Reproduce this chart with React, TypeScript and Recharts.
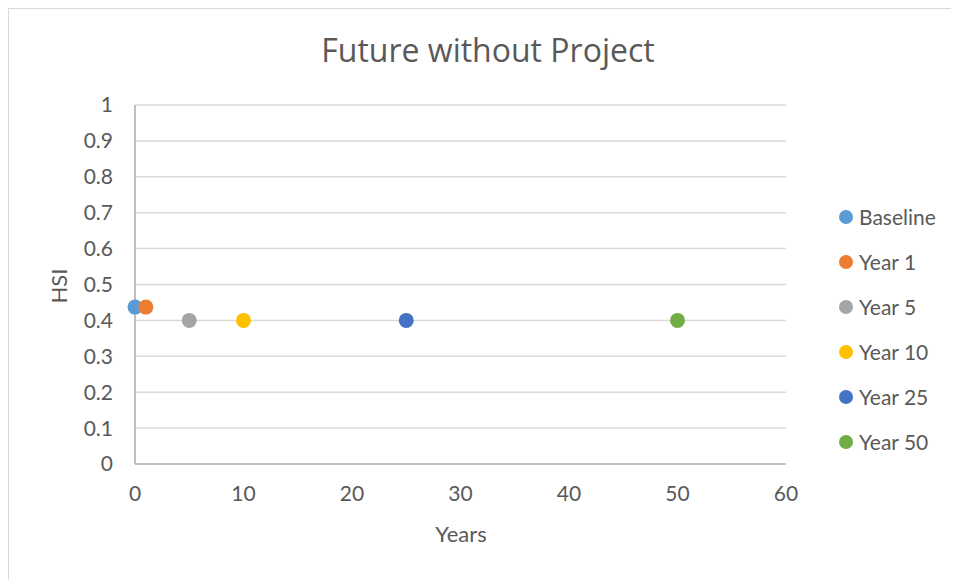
import {
  ScatterChart,
  Scatter,
  XAxis,
  YAxis,
  CartesianGrid,
  Legend,
} from "recharts";

const seriesNames = ["Baseline", "Year 1", "Year 5", "Year 10", "Year 25", "Year 50"];
const years = [0, 1, 5, 10, 25, 50];
const hsi = [0.437, 0.437, 0.4, 0.4, 0.4, 0.4];
const colors = ["#5B9BD5", "#ED7D31", "#A5A5A5", "#FFC000", "#4472C4", "#70AD47"];
const xTicks = [0, 10, 20, 30, 40, 50, 60];
const yTicks = [0, 0.1, 0.2, 0.3, 0.4, 0.5, 0.6, 0.7, 0.8, 0.9, 1];

const FONT = "Lato, 'Open Sans', sans-serif";
const TEXT = "#595959";

const Dot = (props: any) => (
  <circle cx={props.cx} cy={props.cy} r={7.5} fill={props.fill} />
);

// keep legend in series order (recharts sorts by name otherwise)
const LegendList = (props: any) => {
  const items = [...(props.payload || [])].sort(
    (a: any, b: any) => seriesNames.indexOf(a.value) - seriesNames.indexOf(b.value)
  );
  return (
    <div style={{ fontFamily: FONT, fontSize: 21, color: TEXT }}>
      {items.map((p: any) => (
        <div key={p.value} style={{ height: 45, display: "flex", alignItems: "center" }}>
          <span
            style={{
              width: 14,
              height: 14,
              borderRadius: 7,
              background: p.color,
              display: "inline-block",
              marginRight: 6,
            }}
          />
          <span>{p.value}</span>
        </div>
      ))}
    </div>
  );
};

export default function App() {
  return (
    <div
      style={{
        position: "relative",
        width: 950,
        height: 571,
        borderTop: "1px solid #d9d9d9",
        borderLeft: "1px solid #d9d9d9",
        fontFamily: FONT,
      }}
    >
      {/* Title */}
      <div
        style={{
          position: "absolute",
          left: 0,
          top: 22,
          width: 958,
          textAlign: "center",
          fontFamily: "'Open Sans', sans-serif",
          fontSize: 32,
          lineHeight: "38px",
          color: TEXT,
        }}
      >
        Future without Project
      </div>

      <ScatterChart
        width={950}
        height={571}
        margin={{ top: 96, right: 173, bottom: 76, left: 0 }}
      >
        <CartesianGrid vertical={false} stroke="#d9d9d9" strokeWidth={1.5} />
        <XAxis
          type="number"
          dataKey="x"
          domain={[0, 60]}
          ticks={xTicks}
          height={40}
          tickSize={0}
          tickMargin={22}
          axisLine={{ stroke: "#bfbfbf", strokeWidth: 2 }}
          tick={{ fill: TEXT, fontSize: 21, fontFamily: FONT }}
        />
        <YAxis
          type="number"
          dataKey="y"
          domain={[0, 1]}
          ticks={yTicks}
          width={126}
          tickSize={0}
          tickMargin={22}
          axisLine={{ stroke: "#bfbfbf", strokeWidth: 2 }}
          tick={{ fill: TEXT, fontSize: 21, fontFamily: FONT }}
        />
        {seriesNames.map((name, i) => (
          <Scatter
            key={name}
            name={name}
            data={[{ x: years[i], y: hsi[i] }]}
            fill={colors[i]}
            shape={Dot}
            isAnimationActive={false}
          />
        ))}
        <Legend
          layout="vertical"
          align="center"
          verticalAlign="middle"
          content={LegendList}
          wrapperStyle={{ left: 830, top: 185, width: 120 }}
        />
      </ScatterChart>

      {/* Axis titles */}
      <div
        style={{
          position: "absolute",
          left: 50,
          top: 277,
          fontSize: 22,
          lineHeight: "22px",
          color: TEXT,
          transform: "translate(-50%, -50%) rotate(-90deg)",
        }}
      >
        HSI
      </div>
      <div
        style={{
          position: "absolute",
          left: 452,
          top: 525,
          fontSize: 22,
          lineHeight: "22px",
          color: TEXT,
          transform: "translate(-50%, -50%)",
        }}
      >
        Years
      </div>
    </div>
  );
}
